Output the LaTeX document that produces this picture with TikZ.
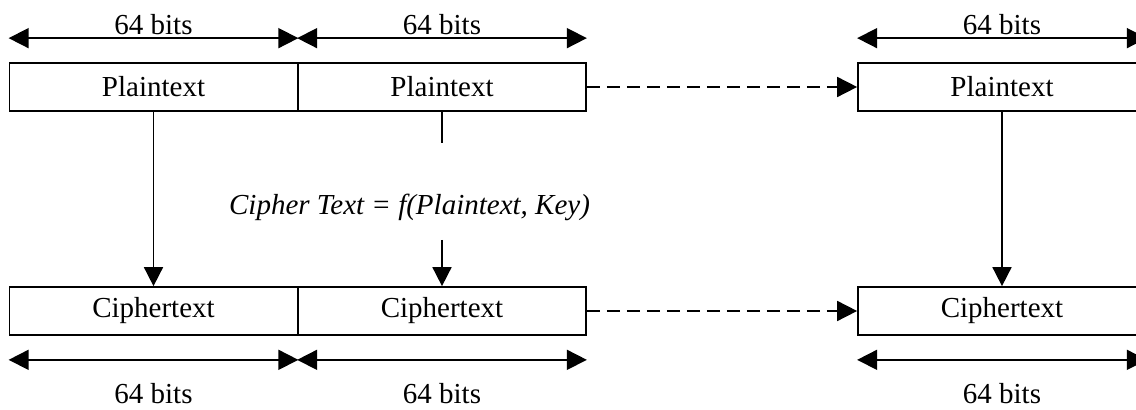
\documentclass[tikz,border=0pt]{standalone}
\usepackage{fontspec}
\setmainfont{Liberation Serif}
\usetikzlibrary{arrows.meta,calc}
\begin{document}
\begin{tikzpicture}[x=0.5pt,y=-0.5pt,
  txt/.style={font=\fontsize{14.5pt}{17pt}\selectfont},
  blk/.style={draw, line width=0.85pt, minimum width=144pt, minimum height=24pt,
              inner sep=0pt, txt},
  dim/.style={line width=0.85pt, {Triangle[length=10pt,width=10pt]}-{Triangle[length=10pt,width=10pt]}},
  arr/.style={line width=0.85pt, -{Triangle[length=9.5pt,width=9.5pt]}},
  dasharr/.style={line width=0.85pt, -{Triangle[length=10pt,width=10pt]}, dash pattern=on 6.5pt off 3.5pt}]
  \useasboundingbox (0,0) rectangle (1136,410);
  \fill[white] (0,0) rectangle (1136,410);
  \clip (0,0) rectangle (1136,410);

  % plaintext blocks
  \node[blk] (p1) at (153.5,87) {Plaintext};
  \node[blk] (p2) at (442,87)   {Plaintext};
  \node[blk] (p3) at (1002,87)  {Plaintext};
  % ciphertext blocks
  \node[blk] (c1) at (153.5,311) {Ciphertext};
  \node[blk] (c2) at (442,311)   {Ciphertext};
  \node[blk] (c3) at (1002,311)  {Ciphertext};

  % block size markers above
  \foreach \b in {p1,p2,p3}{
    \coordinate (\b tl) at ([yshift=12pt]\b.north west);
    \coordinate (\b tr) at ([yshift=12pt]\b.north east);
    \draw[dim] (\b tl) -- (\b tr);
    \node[txt, anchor=base] (\b lab) at ([yshift=2pt]$(\b tl)!0.5!(\b tr)$) {64 bits};
  }
  % block size markers below
  \foreach \b in {c1,c2,c3}{
    \coordinate (\b bl) at ([yshift=-12pt]\b.south west);
    \coordinate (\b br) at ([yshift=-12pt]\b.south east);
    \draw[dim] (\b bl) -- (\b br);
    \node[txt, anchor=base] (\b lab) at ([yshift=-22pt]$(\b bl)!0.5!(\b br)$) {64 bits};
  }

  % encryption of each block
  \draw[arr] (p1) -- (c1);
  \draw[arr] (p3) -- (c3);
  \coordinate (s1) at (442,143);
  \coordinate (s2) at (442,240);
  \draw[line width=0.85pt] (p2) -- (s1);
  \node[txt, font=\fontsize{14.5pt}{17pt}\selectfont\itshape] (f) at (409.5,207)
       {Cipher Text = f(Plaintext, Key)};
  \draw[arr] (s2) -- (c2);

  % further blocks
  \draw[dasharr] (p2) -- (p3);
  \draw[dasharr] (c2) -- (c3);
\end{tikzpicture}
\end{document}
